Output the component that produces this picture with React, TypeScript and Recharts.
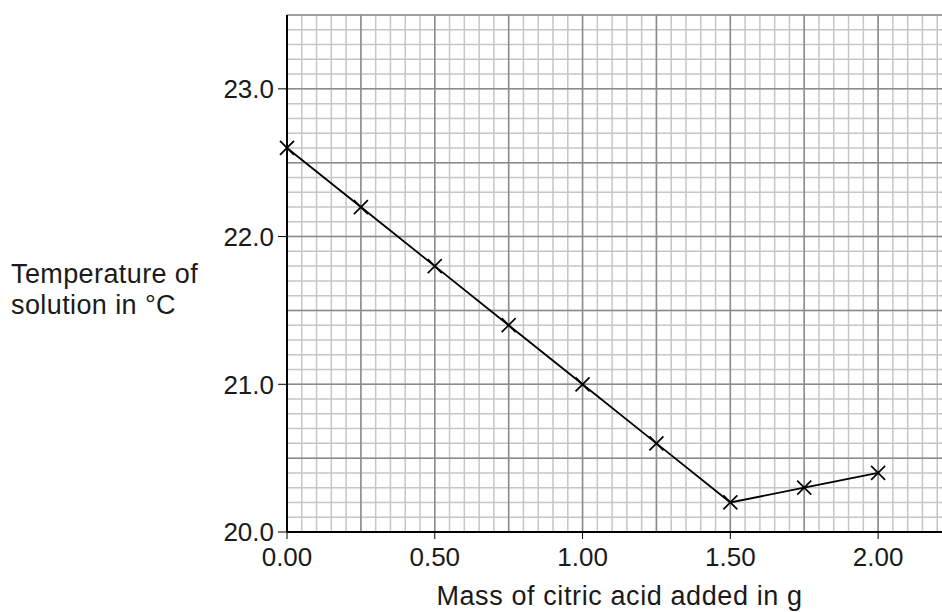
import { LineChart, Line, XAxis, YAxis, CartesianGrid } from 'recharts';

// Readings taken off the graph paper
const massAdded = [0, 0.25, 0.5, 0.75, 1.0, 1.25, 1.5, 1.75, 2.0];
const temperature = [22.6, 22.2, 21.8, 21.4, 21.0, 20.6, 20.2, 20.3, 20.4];

const xTickValues = [0, 0.5, 1.0, 1.5, 2.0];
const yTickValues = [20, 21, 22, 23];

const X_MAX = 2.25;
const Y_MIN = 20;
const Y_MAX = 23.5;

// graph paper lines
const steps = (from: number, to: number, step: number) => {
  const out: number[] = [];
  const n = Math.round((to - from) / step);
  for (let i = 0; i <= n; i++) out.push(Number((from + i * step).toFixed(3)));
  return out;
};
const minorX = steps(0, X_MAX, 0.05);
const majorX = steps(0, X_MAX, 0.25);
const minorY = steps(Y_MIN, Y_MAX, 0.1);
const majorY = steps(Y_MIN, Y_MAX, 0.5);

const data = massAdded.map((m, i) => ({ mass: m, temp: temperature[i] }));

const FONT = '"Liberation Sans", Arial, sans-serif';

const Cross = (props: any) => {
  const { cx, cy, index } = props;
  if (cx == null || cy == null) return <g key={`x-${index}`} />;
  const s = 7;
  return (
    <g key={`x-${index}`}>
      <line x1={cx - s} y1={cy - s} x2={cx + s} y2={cy + s} stroke="#000" strokeWidth={1.7} />
      <line x1={cx - s} y1={cy + s} x2={cx + s} y2={cy - s} stroke="#000" strokeWidth={1.7} />
    </g>
  );
};

const YTitle = () => (
  <text fontFamily={FONT} fontSize={27} fill="#1a1a1a" letterSpacing={0.4}>
    <tspan x={11} y={283}>Temperature of</tspan>
    <tspan x={11} y={314}>solution in °C</tspan>
  </text>
);

export default function App() {
  return (
    <div style={{ position: 'absolute', left: 0, top: 0, width: 942, height: 612, overflow: 'hidden', background: '#fff' }}>
      <LineChart width={960} height={612} data={data} margin={{ top: 15, right: 8, bottom: 0, left: 0 }}>
        {/* hidden axes that only feed the grid */}
        <XAxis xAxisId="minor" dataKey="mass" type="number" domain={[0, X_MAX]} ticks={minorX} interval={0} hide allowDataOverflow />
        <XAxis xAxisId="major" dataKey="mass" type="number" domain={[0, X_MAX]} ticks={majorX} interval={0} hide allowDataOverflow />
        <YAxis yAxisId="minor" type="number" domain={[Y_MIN, Y_MAX]} ticks={minorY} interval={0} hide allowDataOverflow />
        <YAxis yAxisId="major" type="number" domain={[Y_MIN, Y_MAX]} ticks={majorY} interval={0} hide allowDataOverflow />
        <CartesianGrid xAxisId="minor" yAxisId="minor" stroke="#c6c6c6" strokeWidth={1.5} />
        <CartesianGrid xAxisId="major" yAxisId="major" stroke="#8c8c8c" strokeWidth={1.5} />

        <XAxis
          dataKey="mass"
          type="number"
          domain={[0, X_MAX]}
          ticks={xTickValues}
          interval={0}
          height={80}
          tickFormatter={(v: number) => v.toFixed(2)}
          tick={{ fill: '#1a1a1a', fontSize: 26, fontFamily: FONT }}
          tickSize={7}
          tickMargin={9}
          tickLine={{ stroke: '#000', strokeWidth: 1 }}
          axisLine={{ stroke: '#000', strokeWidth: 2 }}
          label={{
            value: 'Mass of citric acid added in g',
            position: 'insideBottom',
            offset: 7,
            fill: '#1a1a1a',
            fontSize: 27,
            fontFamily: FONT,
            letterSpacing: 0.6,
          }}
        />
        <YAxis
          type="number"
          domain={[Y_MIN, Y_MAX]}
          ticks={yTickValues}
          interval={0}
          width={287}
          tickFormatter={(v: number) => v.toFixed(1)}
          tick={{ fill: '#1a1a1a', fontSize: 26, fontFamily: FONT }}
          tickSize={9}
          tickMargin={4}
          tickLine={{ stroke: '#000', strokeWidth: 1 }}
          axisLine={{ stroke: '#000', strokeWidth: 2 }}
          label={{ content: () => <YTitle /> }}
        />

        <Line
          dataKey="temp"
          type="linear"
          stroke="#000"
          strokeWidth={1.8}
          dot={Cross}
          activeDot={false}
          isAnimationActive={false}
        />
      </LineChart>
    </div>
  );
}
